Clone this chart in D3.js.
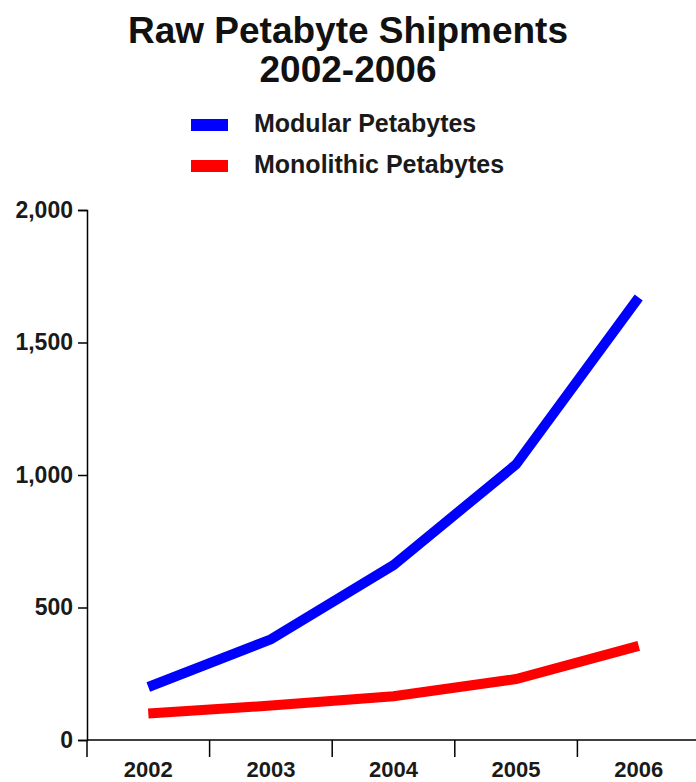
<!DOCTYPE html>
<html>
<head>
<meta charset="utf-8">
<script src="https://cdn.jsdelivr.net/npm/d3@7"></script>
<style>
  body { margin: 0; background: #fff; }
  svg { display: block; font-family: "Liberation Sans", Arial, sans-serif; }
</style>
</head>
<body>
<svg id="chart" width="696" height="782"></svg>
<script>
// Values
const years = ["2002", "2003", "2004", "2005", "2006"];
const modular = [200, 380, 660, 1040, 1670];
const monolithic = [100, 130, 165, 230, 355];
const yTicks = [0, 500, 1000, 1500, 2000];
const seriesNames = ["Modular Petabytes", "Monolithic Petabytes"];
const seriesColors = ["#0000ff", "#ff0000"];

const width = 696;
const height = 782;
const plotLeft = 87, plotRight = 700, plotTop = 210, plotBottom = 740;

const svg = d3.select("#chart");

const x = d3.scaleBand().domain(years).range([plotLeft, plotRight]);
const y = d3.scaleLinear().domain([0, 2000]).range([plotBottom, plotTop]);

// title
svg.append("text")
  .attr("x", 348).attr("y", 43)
  .attr("text-anchor", "middle")
  .attr("font-size", "37px").attr("font-weight", "bold")
  .attr("fill", "#111")
  .text("Raw Petabyte Shipments");
svg.append("text")
  .attr("x", 348).attr("y", 82)
  .attr("text-anchor", "middle")
  .attr("font-size", "37px").attr("font-weight", "bold")
  .attr("fill", "#111")
  .text("2002-2006");

// legend
const legend = svg.selectAll("g.legend")
  .data(seriesNames)
  .enter().append("g")
  .attr("class", "legend")
  .attr("transform", (d, i) => `translate(191,${119 + i * 41})`);

legend.append("rect")
  .attr("width", 37).attr("height", 12)
  .attr("fill", (d, i) => seriesColors[i]);

legend.append("text")
  .attr("x", 63).attr("y", 13)
  .attr("font-size", "25px").attr("font-weight", "bold")
  .attr("fill", "#1a1a1a")
  .text(d => d);

// y axis
const yAxis = svg.append("g")
  .attr("transform", `translate(${plotLeft},0)`)
  .call(d3.axisLeft(y).tickValues(yTicks).tickSize(9).tickPadding(5)
    .tickFormat(d3.format(",")));
yAxis.select(".domain").attr("stroke", "#000").attr("stroke-width", 1.5);
yAxis.selectAll(".tick line").attr("stroke-width", 1.5);
yAxis.selectAll("text")
  .attr("font-size", "23px").attr("font-weight", "bold")
  .attr("font-family", "Liberation Sans, Arial, sans-serif")
  .attr("fill", "#1a1a1a");

// x axis
const xAxis = svg.append("g")
  .attr("transform", `translate(0,${plotBottom})`);
xAxis.append("line")
  .attr("x1", plotLeft).attr("x2", width)
  .attr("stroke", "#000").attr("stroke-width", 1.5);
xAxis.selectAll("line.tick")
  .data(years.concat(["end"]))
  .enter().append("line")
  .attr("class", "tick")
  .attr("x1", (d, i) => plotLeft + i * x.step())
  .attr("x2", (d, i) => plotLeft + i * x.step())
  .attr("y1", 0).attr("y2", 17)
  .attr("stroke", "#000").attr("stroke-width", 1.5);
xAxis.selectAll("text")
  .data(years)
  .enter().append("text")
  .attr("x", d => x(d) + x.bandwidth() / 2)
  .attr("y", 37)
  .attr("text-anchor", "middle")
  .attr("font-size", "22px").attr("font-weight", "bold")
  .attr("fill", "#1a1a1a")
  .text(d => d);

// lines
const line = d3.line()
  .x((d, i) => x(years[i]) + x.bandwidth() / 2)
  .y(d => y(d));

[modular, monolithic].forEach((vals, i) => {
  svg.append("path")
    .datum(vals)
    .attr("d", line)
    .attr("fill", "none")
    .attr("stroke", seriesColors[i])
    .attr("stroke-width", 10);
});
</script>
</body>
</html>
